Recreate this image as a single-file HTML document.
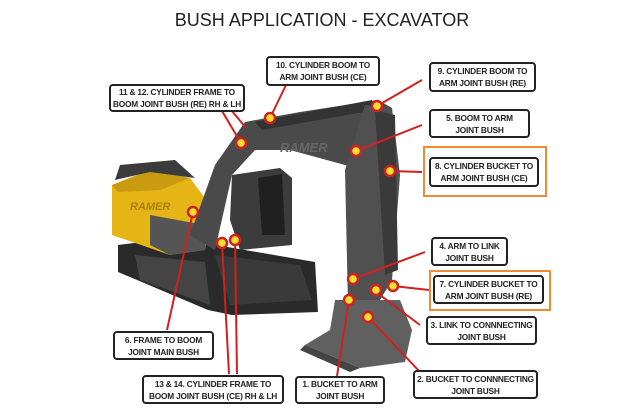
<!DOCTYPE html>
<html><head><style>
body{margin:0;width:644px;height:412px;background:#fff;overflow:hidden;font-family:"Liberation Sans",sans-serif}
.t{position:absolute;left:0;width:644px;top:10px;text-align:center;font-size:18px;color:#222}
.b{position:absolute;border:2px solid #222;border-radius:4px;background:#fff;font-size:8.3px;font-weight:bold;color:#222;text-align:center;line-height:12px;display:flex;align-items:center;justify-content:center;box-sizing:border-box;white-space:nowrap;letter-spacing:-0.2px}
.o{position:absolute;border:2.5px solid #f08a33;box-sizing:border-box}
svg{position:absolute;left:0;top:0}
</style></head><body>
<svg width="644" height="412">
<polygon points="118,245 175,238 315,262 318,312 232,315 208,310 118,272" fill="#2a2a2a"/>
<polygon points="135,255 205,262 210,305 140,280" fill="#444"/>
<polygon points="215,255 300,265 312,300 230,305" fill="#3a3a3a"/>
<polygon points="112,185 150,170 190,178 210,205 205,250 170,255 112,235" fill="#e7b416"/>
<polygon points="112,185 150,170 190,178 160,190 118,192" fill="#c99b10"/>
<polygon points="120,165 175,160 195,178 150,172 115,180" fill="#3b3b3b"/>
<polygon points="150,215 205,225 205,250 170,255 150,245" fill="#555"/>
<polygon points="232,175 280,168 292,178 292,245 240,250 230,220" fill="#3c3c3c"/>
<polygon points="258,178 282,174 285,235 262,235" fill="#202020"/>
<polygon points="190,235 215,165 245,122 300,112 378,100 392,108 385,160 362,170 345,165 290,150 255,150 232,175 215,250" fill="#4a4a4a"/>
<polygon points="255,122 372,100 375,110 262,130" fill="#333"/>
<polygon points="365,105 392,108 400,175 392,280 380,300 348,305 345,170" fill="#505050"/>
<polygon points="375,110 395,115 398,270 385,275" fill="#3a3a3a"/>
<polygon points="335,300 400,300 412,330 405,362 360,368 305,345 330,330" fill="#606060"/>
<polygon points="305,345 360,368 350,372 300,350" fill="#444"/>
<text x="280" y="152" font-family="Liberation Sans" font-weight="bold" font-size="13" fill="#666" font-style="italic">RAMER</text>
<text x="130" y="210" font-family="Liberation Sans" font-weight="bold" font-size="11" fill="#a88210" font-style="italic">RAMER</text>
<g stroke="#d21f1f" stroke-width="2" fill="none">
<line x1="286" y1="85" x2="270" y2="118"/>
<line x1="422" y1="80" x2="377" y2="106"/>
<line x1="222" y1="111" x2="241" y2="143"/>
<line x1="232" y1="111" x2="246" y2="128"/>
<line x1="422" y1="125" x2="356" y2="151"/>
<line x1="422" y1="172" x2="390" y2="171"/>
<line x1="193" y1="212" x2="167" y2="330"/>
<line x1="222" y1="243" x2="229" y2="374"/>
<line x1="235" y1="240" x2="237" y2="374"/>
<line x1="425" y1="252" x2="353" y2="279"/>
<line x1="429" y1="290" x2="393" y2="286"/>
<line x1="420" y1="325" x2="380" y2="295"/>
<line x1="349" y1="300" x2="337" y2="376"/>
<line x1="420" y1="372" x2="368" y2="317"/>
</g>
<g fill="#f0e030" stroke="#d21f1f" stroke-width="2.5">
<circle cx="270" cy="118" r="5"/><circle cx="377" cy="106" r="5"/><circle cx="241" cy="143" r="5"/>
<circle cx="356" cy="151" r="5"/><circle cx="390" cy="171" r="5"/><circle cx="193" cy="212" r="5"/>
<circle cx="222" cy="243" r="5"/><circle cx="235" cy="240" r="5"/><circle cx="353" cy="279" r="5"/>
<circle cx="376" cy="290" r="5"/><circle cx="393" cy="286" r="5"/><circle cx="349" cy="300" r="5"/>
<circle cx="368" cy="317" r="5"/>
</g>
</svg>
<div class="t">BUSH APPLICATION - EXCAVATOR</div>
<div class="b" style="left:266px;top:56px;width:114px;height:30px">10. CYLINDER BOOM TO<br>ARM JOINT BUSH (CE)</div>
<div class="b" style="left:429px;top:62px;width:107px;height:30px">9. CYLINDER BOOM TO<br>ARM JOINT BUSH (RE)</div>
<div class="b" style="left:109px;top:84px;width:136px;height:28px">11 &amp; 12. CYLINDER FRAME TO<br>BOOM JOINT BUSH (RE) RH &amp; LH</div>
<div class="b" style="left:429px;top:109px;width:101px;height:29px">5. BOOM TO ARM<br>JOINT BUSH</div>
<div class="o" style="left:423px;top:146px;width:124px;height:51px"></div>
<div class="b" style="left:429px;top:157px;width:110px;height:30px">8. CYLINDER BUCKET TO<br>ARM JOINT BUSH (CE)</div>
<div class="b" style="left:431px;top:237px;width:77px;height:29px">4. ARM TO LINK<br>JOINT BUSH</div>
<div class="o" style="left:429px;top:270px;width:122px;height:41px"></div>
<div class="b" style="left:433px;top:275px;width:111px;height:29px">7. CYLINDER BUCKET TO<br>ARM JOINT BUSH (RE)</div>
<div class="b" style="left:426px;top:316px;width:111px;height:29px">3. LINK TO CONNNECTING<br>JOINT BUSH</div>
<div class="b" style="left:113px;top:331px;width:101px;height:29px">6. FRAME TO BOOM<br>JOINT MAIN BUSH</div>
<div class="b" style="left:413px;top:370px;width:125px;height:29px">2. BUCKET TO CONNNECTING<br>JOINT BUSH</div>
<div class="b" style="left:142px;top:375px;width:142px;height:29px">13 &amp; 14. CYLINDER FRAME TO<br>BOOM JOINT BUSH (CE) RH &amp; LH</div>
<div class="b" style="left:295px;top:376px;width:90px;height:28px">1. BUCKET TO ARM<br>JOINT BUSH</div>
</body></html>
